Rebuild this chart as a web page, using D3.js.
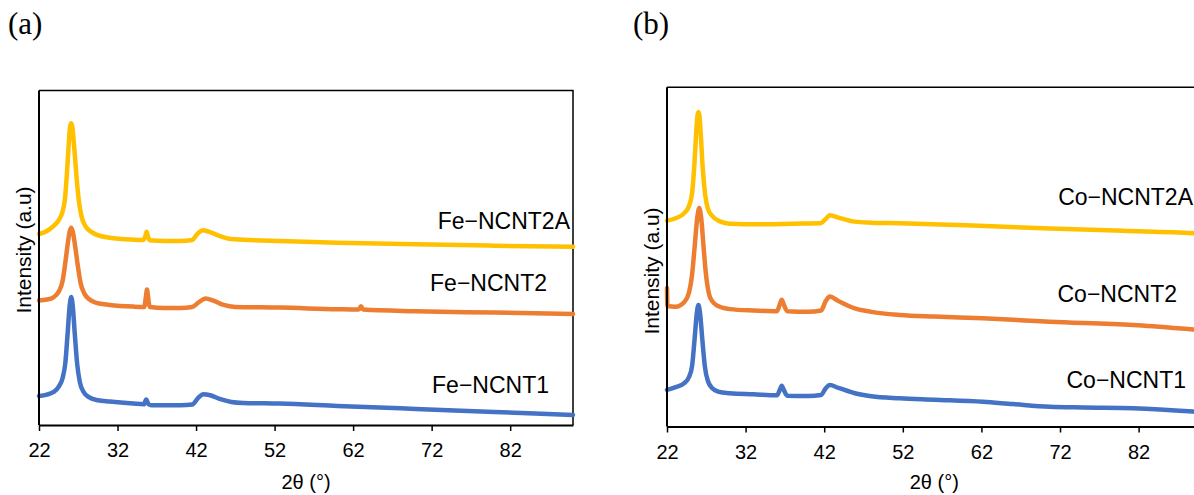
<!DOCTYPE html>
<html>
<head>
<meta charset="utf-8">
<script src="https://cdn.jsdelivr.net/npm/d3@7/dist/d3.min.js"></script>
<style>
  html, body { margin: 0; padding: 0; background: #fff; }
  svg { display: block; }
</style>
</head>
<body>
<div class="container"></div>
<script>
// XRD patterns, 2θ (°) vs intensity (a.u, stacked)
const xTicks = [22, 32, 42, 52, 62, 72, 82];
const seriesColors = ['#4472C4', '#ED7D31', '#FFC000'];

const feNames = ['Fe\u2212NCNT1', 'Fe\u2212NCNT2', 'Fe\u2212NCNT2A'];
const coNames = ['Co\u2212NCNT1', 'Co\u2212NCNT2', 'Co\u2212NCNT2A'];

const feNCNT1 = [
  [22, 8.7], [23, 9.1], [23.8, 9.8], [24.5, 11.4], [25.0, 14.0], [25.35, 18.5], [25.65, 27.5],
  [25.9, 35.5], [26.1, 38.3], [26.3, 35.5], [26.55, 27.5], [26.85, 18.5], [27.2, 12.8],
  [27.7, 9.8], [28.3, 8.4], [29.5, 7.4], [31, 7.0], [34, 6.4], [35.35, 6.2], [35.65, 7.6],
  [35.95, 6.2], [36.3, 5.9], [38, 5.9], [40, 5.9], [41.5, 6.1], [42.3, 8.2], [42.9, 9.2],
  [43.8, 8.9], [45.0, 7.8], [46.5, 6.9], [48, 6.6], [52.7, 6.4], [60, 5.7], [70, 4.8],
  [80, 3.9], [90, 3.0]
];
const feNCNT2 = [
  [22, 37.2], [23, 37.5], [23.8, 38.1], [24.5, 39.8], [25.0, 43.0], [25.35, 48.5], [25.65, 54.0],
  [25.9, 57.8], [26.1, 59.0], [26.3, 57.8], [26.6, 53.5], [26.95, 47.5], [27.3, 42.4],
  [27.8, 39.2], [28.4, 37.6], [29.3, 36.5], [31, 35.9], [34, 35.4], [35.4, 35.3], [35.6, 38.0],
  [35.75, 40.5], [35.9, 38.0], [36.1, 35.3], [38, 35.0], [40, 35.0], [41.5, 35.3], [42.4, 36.8],
  [43.2, 37.8], [44.2, 37.2], [45.5, 35.9], [47, 35.3], [52.7, 35.1], [60, 34.6], [62.7, 34.5],
  [63.0, 35.5], [63.3, 34.5], [70, 34.0], [80, 33.6], [90, 33.2]
];
const feNCNT2A = [
  [22, 57.1], [23, 58.0], [23.8, 59.4], [24.5, 61.2], [25.0, 63.8], [25.3, 67.5], [25.55, 75.0],
  [25.8, 84.5], [25.95, 89.0], [26.1, 90.2], [26.25, 89.0], [26.45, 84.0], [26.75, 75.0],
  [27.05, 67.5], [27.4, 62.5], [27.9, 59.5], [28.5, 58.0], [29.3, 56.9], [31, 56.0], [34, 55.4],
  [35.3, 55.3], [35.55, 56.6], [35.7, 57.8], [35.85, 56.6], [36.1, 55.2], [38, 55.0], [40, 55.0],
  [41.5, 55.3], [42.2, 57.2], [42.9, 58.2], [43.6, 57.8], [44.8, 56.7], [46.5, 55.6], [48, 55.4],
  [52.7, 55.0], [60, 54.5], [70, 54.0], [80, 53.6], [90, 53.3]
];

const coNCNT1 = [
  [22, 10.8], [23.1, 11.6], [24.2, 12.8], [24.8, 14.6], [25.2, 18.0], [25.5, 25.5], [25.8, 33.5],
  [26.0, 35.8], [26.2, 33.5], [26.5, 25.5], [26.8, 18.0], [27.2, 13.4], [27.8, 11.2], [28.5, 10.3],
  [30, 9.8], [33, 9.5], [36, 9.2], [36.35, 10.8], [36.6, 12.0], [36.85, 10.8], [37.3, 9.1],
  [40, 9.0], [41.6, 9.3], [42.2, 11.3], [42.7, 12.2], [43.8, 11.4], [45.9, 9.8], [48, 8.9],
  [51.6, 8.3], [56, 7.9], [62.2, 7.3], [66, 6.6], [70.7, 5.8], [75, 5.6], [81.3, 5.4],
  [88.9, 4.4], [90, 4.2]
];
const coNCNT2 = [
  [22, 40.8], [22.05, 35.5], [23.1, 35.3], [24.2, 36.7], [24.8, 39.5], [25.2, 45.0], [25.5, 52.5],
  [25.85, 61.5], [26.1, 64.4], [26.35, 61.5], [26.65, 53.0], [26.95, 45.0], [27.35, 39.0],
  [27.8, 36.8], [28.5, 35.5], [30, 34.6], [33, 34.2], [36, 34.0], [36.35, 36.0], [36.6, 37.4],
  [36.85, 36.0], [37.3, 34.0], [40, 33.8], [41.6, 34.2], [42.2, 37.0], [42.7, 38.3], [43.8, 37.0],
  [45.9, 34.8], [48, 33.8], [51.6, 32.9], [56, 32.4], [62.2, 31.9], [70.7, 30.9], [81.3, 29.9],
  [88.9, 28.6], [90, 28.4]
];
const coNCNT2A = [
  [22, 60.7], [23.1, 61.4], [24.2, 62.9], [24.8, 65.0], [25.2, 69.0], [25.45, 76.0], [25.7, 86.0],
  [25.87, 91.5], [26.0, 92.7], [26.13, 91.5], [26.3, 86.0], [26.55, 76.0], [26.85, 68.5],
  [27.2, 64.2], [27.7, 62.2], [28.8, 60.4], [30, 59.8], [34, 59.6], [38, 59.8], [41.5, 59.9],
  [42.2, 61.2], [42.7, 62.3], [43.8, 61.6], [45.9, 60.4], [48, 60.1], [51.6, 59.9], [60, 59.3],
  [70.7, 58.4], [80, 57.7], [88.9, 57.0], [90, 56.8]
];

const font = '"Liberation Sans", Arial, sans-serif';

const svg = d3.select('.container')
              .append('svg')
              .attr('width', 1194)
              .attr('height', 495);

const panels = [
  {
    tag: '(a)', tagX: 8,
    left: 39, right: 573, top: 90.5, bottom: 425,
    series: [feNCNT1, feNCNT2, feNCNT2A], names: feNames,
    labelPos: [[549, 393], [547, 291], [570, 229]],
    yTitleX: 31, yTitleY: 250
  },
  {
    tag: '(b)', tagX: 633,
    left: 667, right: 1201.5, top: 87.3, bottom: 426.5,
    series: [coNCNT1, coNCNT2, coNCNT2A], names: coNames,
    labelPos: [[1186, 388], [1177, 302], [1193, 205]],
    yTitleX: 659, yTitleY: 271
  }
];

panels.forEach(p => {
  const x = d3.scaleLinear().domain([22, 90]).range([p.left, p.right]);
  const y = d3.scaleLinear().domain([0, 100]).range([p.bottom, p.top]);

  // panel letter
  svg.append('text')
     .attr('x', p.tagX)
     .attr('y', 34)
     .style('font-family', '"Liberation Serif", "Times New Roman", serif')
     .style('font-size', '31px')
     .text(p.tag);

  // plot frame (top / right)
  svg.append('path')
     .attr('d', `M${p.left},${p.top}H${p.right}V${p.bottom}`)
     .attr('fill', 'none')
     .attr('stroke', '#000')
     .attr('stroke-width', 1.5);

  // lines
  const line = d3.line()
                 .x(d => x(d[0]))
                 .y(d => y(d[1]))
                 .curve(d3.curveMonotoneX);

  svg.append('g')
     .selectAll('path')
     .data(p.series)
     .enter()
     .append('path')
     .attr('d', line)
     .attr('fill', 'none')
     .attr('stroke', (d, i) => seriesColors[i])
     .attr('stroke-width', 4.5)
     .attr('stroke-linejoin', 'round')
     .attr('stroke-linecap', 'round');

  // x axis
  const xAxis = d3.axisBottom(x)
                  .tickValues(xTicks)
                  .tickSize(6)
                  .tickSizeOuter(0)
                  .tickPadding(12);
  const gx = svg.append('g')
                .attr('transform', `translate(0,${p.bottom})`)
                .call(xAxis);
  gx.select('.domain').attr('stroke-width', 2);
  gx.selectAll('.tick line').attr('stroke-width', 1.5);
  gx.selectAll('.tick text')
    .style('font-size', '20px')
    .style('font-family', font)
    .attr('fill', '#000');

  // y axis (no ticks)
  svg.append('line')
     .attr('x1', p.left).attr('x2', p.left)
     .attr('y1', p.top).attr('y2', p.bottom)
     .attr('stroke', '#000')
     .attr('stroke-width', 2);

  // axis titles
  svg.append('text')
     .attr('x', (p.left + p.right) / 2)
     .attr('y', 489)
     .attr('text-anchor', 'middle')
     .style('font-family', font)
     .style('font-size', '20px')
     .text('2\u03B8 (\u00B0)');

  svg.append('text')
     .attr('transform', `translate(${p.yTitleX},${p.yTitleY}) rotate(-90)`)
     .attr('text-anchor', 'middle')
     .style('font-family', font)
     .style('font-size', '21px')
     .text('Intensity (a.u)');

  // series labels
  svg.append('g')
     .selectAll('text')
     .data(p.names)
     .enter()
     .append('text')
     .attr('x', (d, i) => p.labelPos[i][0])
     .attr('y', (d, i) => p.labelPos[i][1])
     .attr('text-anchor', 'end')
     .style('font-family', font)
     .style('font-size', '23px')
     .text(d => d);
});
</script>
</body>
</html>
